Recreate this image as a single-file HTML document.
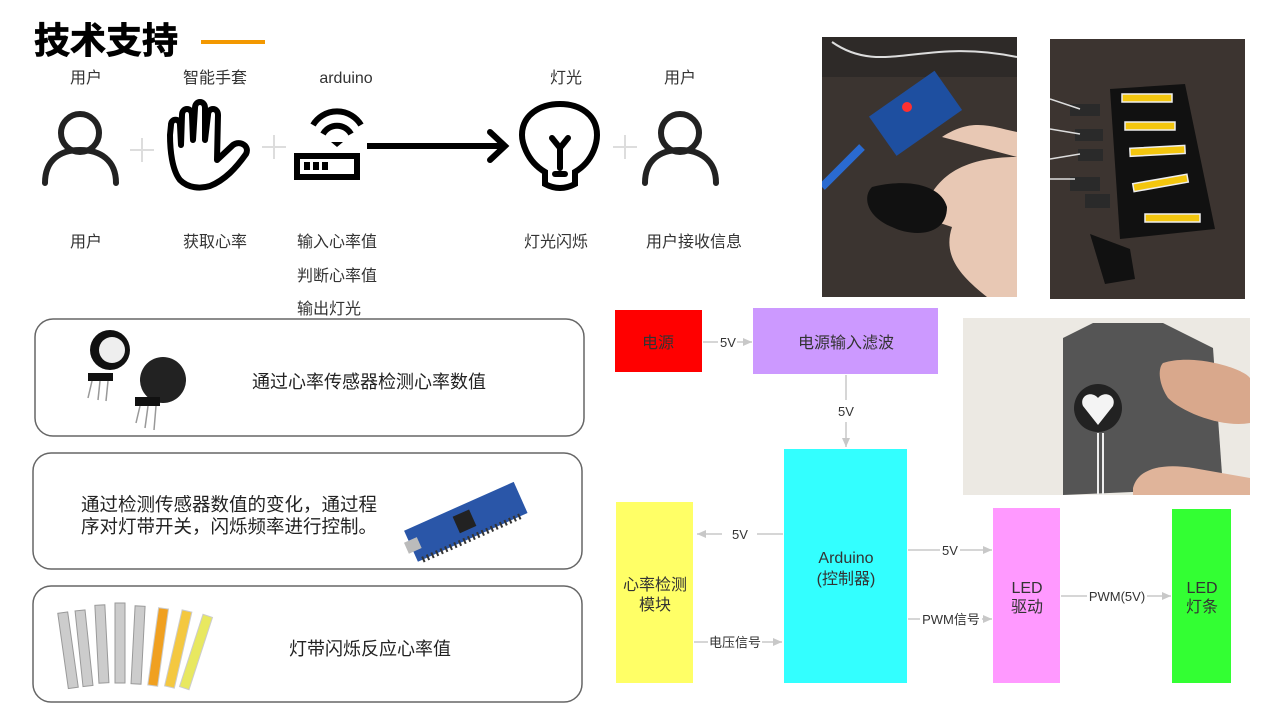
<!DOCTYPE html>
<html><head><meta charset="utf-8"><style>
html,body{margin:0;padding:0;background:#fff;}
svg{display:block;font-family:"Liberation Sans","Noto Sans CJK SC",sans-serif;}
</style></head><body>
<svg width="1280" height="717" viewBox="0 0 1280 717" xmlns="http://www.w3.org/2000/svg">
<!-- title -->
<text x="34" y="53" font-size="36" font-weight="bold" fill="#000" stroke="#000" stroke-width="0.8">技术支持</text>
<rect x="201" y="40" width="64" height="4" fill="#f39800"/>
<!-- top labels -->
<g font-size="16" fill="#333" text-anchor="middle">
<text x="86" y="83">用户</text>
<text x="215" y="83">智能手套</text>
<text x="346" y="83">arduino</text>
<text x="566" y="83">灯光</text>
<text x="680" y="83">用户</text>
<text x="86" y="247">用户</text>
<text x="215" y="247">获取心率</text>
<text x="556" y="247">灯光闪烁</text>
<text x="694" y="247">用户接收信息</text>
</g>
<g font-size="16" fill="#333">
<text x="297" y="247">输入心率值</text>
<text x="297" y="281">判断心率值</text>
<text x="297" y="314">输出灯光</text>
</g>
<!-- plus signs -->
<g stroke="#ddd" stroke-width="2">
<path d="M130,150 H154 M142,138 V162"/>
<path d="M262,147 H286 M274,135 V159"/>
<path d="M613,147 H637 M625,135 V159"/>
</g>
<!-- person icons -->
<g fill="none" stroke="#222" stroke-width="6" stroke-linecap="round">
<circle cx="80" cy="133" r="19"/>
<path d="M45,183 C45,160 60,150 80,150 C100,150 116,160 116,183"/>
<circle cx="680" cy="133" r="19"/>
<path d="M645,183 C645,160 660,150 680,150 C700,150 716,160 716,183"/>
</g>
<!-- hand -->
<g fill="none" stroke="#000" stroke-width="6" stroke-linejoin="round" stroke-linecap="round">
<path d="M180,180 C172,170 170,150 170,135 L171,125 C171,118 180,118 180,125 L181,145 L182,115 C182,107 192,107 192,115 L193,140 L195,108 C195,100 205,100 205,108 L205,140 L208,115 C208,107 218,107 218,115 L217,160 L233,145 C240,140 250,146 246,154 C236,168 225,180 210,186 C200,189 188,188 180,180 Z"/>
</g>
<!-- router -->
<g>
<rect x="294" y="153" width="66" height="27" fill="#000"/>
<rect x="300" y="159" width="54" height="15" fill="#fff"/>
<rect x="304" y="162" width="6" height="8" fill="#000"/>
<rect x="313" y="162" width="6" height="8" fill="#000"/>
<rect x="322" y="162" width="6" height="8" fill="#000"/>
<path d="M313,125 A28,28 0 0 1 361,125" fill="none" stroke="#000" stroke-width="6"/>
<path d="M323,134 A16,16 0 0 1 351,134" fill="none" stroke="#000" stroke-width="6"/>
<path d="M331,142 L337,147 L343,142 Z" fill="#000"/>
</g>
<!-- arrow -->
<path d="M367,146 H505" stroke="#000" stroke-width="6"/>
<path d="M490,132 L505,146 L490,160" fill="none" stroke="#000" stroke-width="6" stroke-linecap="round"/>
<!-- bulb -->
<g fill="none" stroke="#000" stroke-width="6" stroke-linecap="round">
<path d="M545,172 C525,160 522,140 522,135 C522,115 540,104 560,104 C580,104 597,115 597,135 C597,140 595,160 575,172 L575,184 Q560,192 545,184 Z"/>
<path d="M560,148 V168 M552,138 L560,148 L568,138"/>
</g>
<rect x="552" y="171" width="16" height="6" rx="3" fill="#000"/>
<!-- panels -->
<g fill="#fff" stroke="#666" stroke-width="1.5">
<rect x="35" y="319" width="549" height="117" rx="18"/>
<rect x="33" y="453" width="549" height="116" rx="18"/>
<rect x="33" y="586" width="549" height="116" rx="18"/>
</g>
<!-- sensor image -->
<g>
<circle cx="110" cy="350" r="20" fill="#111"/>
<circle cx="112" cy="350" r="13" fill="#eee"/>
<rect x="88" y="373" width="25" height="8" fill="#111"/>
<path d="M92,381 L88,398 M100,381 L98,400 M108,381 L106,401" stroke="#999" stroke-width="1.5"/>
<circle cx="163" cy="380" r="23" fill="#222"/>
<rect x="135" y="397" width="25" height="9" fill="#111"/>
<path d="M140,406 L136,423 M148,406 L145,428 M156,406 L154,430" stroke="#999" stroke-width="1.5"/>
</g>
<text x="252" y="388" font-size="18" fill="#222">通过心率传感器检测心率数值</text>
<text x="81" y="511" font-size="18.5" fill="#222">通过检测传感器数值的变化，通过程</text>
<text x="81" y="533" font-size="18.5" fill="#222">序对灯带开关，闪烁频率进行控制。</text>
<!-- nano board -->
<g transform="rotate(-24 465 520)">
<rect x="405" y="505" width="120" height="34" fill="#2a56a8"/>
<rect x="455" y="512" width="18" height="18" fill="#222"/>
<rect x="400" y="516" width="14" height="12" fill="#bbb"/>
<path d="M410,539 h110" stroke="#333" stroke-width="6" stroke-dasharray="2 3"/>
</g>
<!-- led strips -->
<g>
<g transform="rotate(-8 70 650)"><rect x="63" y="612" width="10" height="76" fill="#ccc" stroke="#999"/></g>
<g transform="rotate(-6 86 648)"><rect x="79" y="610" width="10" height="76" fill="#ccc" stroke="#999"/></g>
<g transform="rotate(-3 102 646)"><rect x="97" y="605" width="10" height="78" fill="#ccc" stroke="#999"/></g>
<g><rect x="115" y="603" width="10" height="80" fill="#ccc" stroke="#999"/></g>
<g transform="rotate(3 138 646)"><rect x="133" y="606" width="10" height="78" fill="#ccc" stroke="#999"/></g>
<g transform="rotate(8 158 648)"><rect x="153" y="608" width="10" height="78" fill="#f0a020" stroke="#ccc"/></g>
<g transform="rotate(13 178 650)"><rect x="173" y="610" width="10" height="78" fill="#f4c840" stroke="#ccc"/></g>
<g transform="rotate(18 196 652)"><rect x="191" y="614" width="10" height="76" fill="#e8e860" stroke="#ccc"/></g>
</g>
<text x="289" y="655" font-size="18" fill="#222">灯带闪烁反应心率值</text>

<!-- photo 1 -->
<svg x="822" y="37" width="195" height="260" viewBox="0 0 195 260">
<rect width="195" height="260" fill="#3b3430"/>
<rect x="0" y="0" width="195" height="40" fill="#2e2a28"/>
<g transform="rotate(-35 90 80)"><rect x="55" y="55" width="80" height="48" fill="#1e4fa0"/></g>
<circle cx="85" cy="70" r="5" fill="#ff3030"/>
<path d="M0,150 L40,110" stroke="#2a6ad0" stroke-width="8"/>
<path d="M120,100 C150,80 170,90 195,95 L195,260 L165,260 C140,240 120,220 130,190 L100,180 C110,140 140,120 195,120" fill="#e8c8b4"/>
<path d="M50,150 C90,140 120,150 125,170 C125,200 90,200 70,190 C45,180 40,160 50,150 Z" fill="#111"/>
<path d="M10,5 C60,40 100,0 195,20" stroke="#ddd" stroke-width="2" fill="none"/>
</svg>
<!-- photo 2 -->
<svg x="1050" y="39" width="195" height="260" viewBox="0 0 195 260">
<rect width="195" height="260" fill="#3c3430"/>
<path d="M60,50 L135,45 L165,190 L70,200 Z" fill="#111"/>
<g fill="#f3c60f" stroke="#eee" stroke-width="1.5">
<rect x="72" y="55" width="50" height="8"/>
<rect x="75" y="83" width="50" height="8"/>
<rect x="80" y="108" width="55" height="8" transform="rotate(-3 105 112)"/>
<rect x="83" y="140" width="55" height="8" transform="rotate(-10 110 144)"/>
<rect x="95" y="175" width="55" height="8"/>
</g>
<g fill="#2a2a2a"><rect x="20" y="65" width="30" height="12"/><rect x="25" y="90" width="28" height="12"/><rect x="28" y="110" width="25" height="12"/><rect x="20" y="138" width="30" height="14"/><rect x="35" y="155" width="25" height="14"/></g>
<path d="M40,195 L80,210 L85,240 L55,245 Z" fill="#111"/>
<path d="M0,60 L30,70 M0,90 L30,95 M0,120 L30,115 M0,140 L25,140" stroke="#ddd" stroke-width="1.5"/>
</svg>
<!-- photo 3 -->
<svg x="963" y="318" width="287" height="177" viewBox="0 0 287 177">
<rect width="287" height="177" fill="#ece9e3"/>
<path d="M100,20 L130,5 L200,5 L250,30 L260,170 L100,177 Z" fill="#555"/>
<circle cx="135" cy="90" r="24" fill="#222"/>
<path d="M135,107 L120,88 C116,78 128,72 135,80 C142,72 154,78 150,88 Z" fill="#f4f4f4"/>
<path d="M135,115 V177 M140,115 V177" stroke="#eee" stroke-width="2"/>
<path d="M200,45 C230,35 280,50 287,60 L287,105 C260,110 220,95 205,80 C195,65 195,50 200,45 Z" fill="#d9a88c"/>
<path d="M170,170 C175,150 200,145 230,150 L287,160 L287,177 L170,177 Z" fill="#e0b49a"/>
</svg>

<!-- block diagram -->
<rect x="615" y="310" width="87" height="62" fill="#ff0000"/>
<rect x="753" y="308" width="185" height="66" fill="#cc99ff"/>
<rect x="784" y="449" width="123" height="234" fill="#33ffff"/>
<rect x="616" y="502" width="77" height="181" fill="#ffff66"/>
<rect x="993" y="508" width="67" height="175" fill="#ff99ff"/>
<rect x="1172" y="509" width="59" height="174" fill="#33ff33"/>
<g stroke="#c8c8c8" stroke-width="1.5" fill="none">
<path d="M703,342 H718 M737,342 H752" />
<path d="M846,375 V400 M846,422 V447" />
<path d="M783,534 H757 M722,534 H697" />
<path d="M908,550 H940 M960,550 H992" />
<path d="M908,619 H920 M982,619 H992" />
<path d="M694,642 H708 M762,642 H782" />
<path d="M1061,596 H1087 M1147,596 H1171" />
</g>
<g fill="#c8c8c8">
<path d="M752,342 l-9,-4 v8 Z"/>
<path d="M846,447 l-4,-9 h8 Z"/>
<path d="M697,534 l9,-4 v8 Z"/>
<path d="M992,550 l-9,-4 v8 Z"/>
<path d="M992,619 l-9,-4 v8 Z"/>
<path d="M782,642 l-9,-4 v8 Z"/>
<path d="M1171,596 l-9,-4 v8 Z"/>
</g>
<g font-size="13" fill="#333" text-anchor="middle">
<text x="728" y="347">5V</text>
<text x="846" y="416">5V</text>
<text x="740" y="539">5V</text>
<text x="950" y="555">5V</text>
<text x="951" y="624">PWM信号</text>
<text x="735" y="647">电压信号</text>
<text x="1117" y="601">PWM(5V)</text>
</g>
<g font-size="16" fill="#333" text-anchor="middle">
<text x="658" y="348">电源</text>
<text x="846" y="348">电源输入滤波</text>
<text x="846" y="563">Arduino</text>
<text x="846" y="584">(控制器)</text>
<text x="655" y="590">心率检测</text>
<text x="655" y="610">模块</text>
<text x="1027" y="593">LED</text>
<text x="1027" y="612">驱动</text>
<text x="1202" y="593">LED</text>
<text x="1202" y="612">灯条</text>
</g>
</svg>
</body></html>
